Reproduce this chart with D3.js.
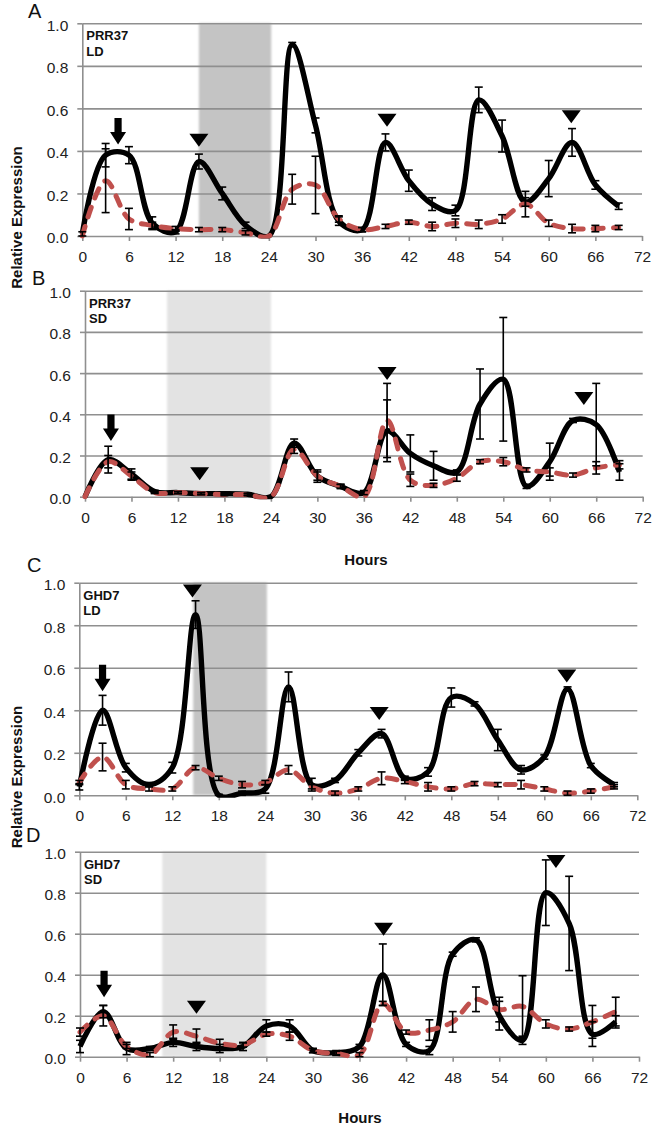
<!DOCTYPE html>
<html><head><meta charset="utf-8">
<script src="https://cdn.jsdelivr.net/npm/d3@7/dist/d3.min.js"></script>
<style>body{margin:0;background:#fff}svg{display:block}</style>
</head><body>
<svg id="c" width="653" height="1125"></svg>
<script>
// ---------- data ----------
const hours = [0,3,6,9,12,15,18,21,24,27,30,33,36,39,42,45,48,51,54,57,60,63,66,69];
const xTicks = [0,6,12,18,24,30,36,42,48,54,60,66,72];
const yTicks = [0,0.2,0.4,0.6,0.8,1.0];

// Panel A: PRR37 LD
const prr37LD_solid  = [0.01,0.38,0.38,0.06,0.02,0.35,0.20,0.05,0.0,0.90,0.52,0.07,0.03,0.44,0.26,0.15,0.12,0.64,0.47,0.16,0.27,0.44,0.24,0.14];
const prr37LD_solidErr = [0.01,0.055,0.04,0.03,0.01,0.035,0.03,0.015,0.0,0.01,0.035,0.02,0.01,0.04,0.05,0.03,0.025,0.06,0.075,0.02,0.085,0.065,0.02,0.015];
const prr37LD_dashed = [0.0,0.26,0.08,0.05,0.035,0.03,0.03,0.015,0.0,0.22,0.24,0.08,0.03,0.045,0.065,0.045,0.06,0.055,0.08,0.15,0.06,0.035,0.035,0.04];
const prr37LD_dashedErr = [0.0,0.15,0.05,0.015,0.01,0.01,0.01,0.01,0.0,0.07,0.135,0.015,0.01,0.01,0.01,0.02,0.02,0.02,0.02,0.06,0.015,0.02,0.015,0.01];
const prr37LD_dark = [15,24.3];
const prr37LD_arrow = [4.6,0.43];
const prr37LD_triangles = [[15,0.42],[39.2,0.514],[62.9,0.53]];

// Panel B: PRR37 SD
const prr37SD_solid  = [0.0,0.18,0.11,0.025,0.02,0.015,0.015,0.012,0.0,0.26,0.10,0.05,0.02,0.32,0.21,0.15,0.12,0.45,0.57,0.05,0.17,0.37,0.35,0.12];
const prr37SD_solidErr = [0.0,0.065,0.025,0.005,0.005,0.005,0.005,0.005,0.0,0.02,0.03,0.01,0.01,0.15,0.09,0.07,0.01,0.17,0.30,0.01,0.09,0.01,0.20,0.04];
const prr37SD_dashed = [0.0,0.17,0.10,0.02,0.02,0.015,0.01,0.01,0.0,0.23,0.10,0.05,0.0,0.37,0.08,0.055,0.09,0.17,0.17,0.13,0.12,0.105,0.14,0.155];
const prr37SD_dashedErr = [0.0,0.03,0.02,0.005,0.005,0.005,0.005,0.005,0.0,0.02,0.02,0.01,0.0,0.18,0.03,0.01,0.015,0.01,0.02,0.01,0.02,0.01,0.03,0.02];
const prr37SD_dark = [10.6,24];
const prr37SD_arrow = [3.35,0.27];
const prr37SD_triangles = [[14.8,0.08],[39.0,0.566],[64.4,0.445]];

// Panel C: GHD7 LD
const ghd7LD_solid  = [0.04,0.40,0.13,0.05,0.13,0.85,0.0,0.01,0.03,0.51,0.05,0.07,0.20,0.29,0.08,0.11,0.46,0.43,0.26,0.12,0.18,0.50,0.14,0.05];
const ghd7LD_solidErr = [0.015,0.07,0.02,0.01,0.025,0.065,0.005,0.01,0.02,0.07,0.03,0.01,0.015,0.02,0.01,0.02,0.045,0.01,0.05,0.02,0.01,0.01,0.01,0.01];
const ghd7LD_dashed = [0.06,0.18,0.05,0.03,0.03,0.13,0.08,0.05,0.06,0.12,0.04,0.01,0.03,0.08,0.065,0.04,0.03,0.055,0.05,0.05,0.03,0.01,0.02,0.04];
const ghd7LD_dashedErr = [0.01,0.065,0.02,0.01,0.01,0.01,0.01,0.015,0.01,0.02,0.01,0.01,0.01,0.03,0.01,0.02,0.01,0.01,0.01,0.02,0.01,0.01,0.01,0.01];
const ghd7LD_dark = [14.7,24.2];
const ghd7LD_arrow = [3.0,0.49];
const ghd7LD_triangles = [[14.6,0.93],[38.7,0.354],[62.9,0.53]];

// Panel D: GHD7 SD
const ghd7SD_solid  = [0.05,0.22,0.04,0.04,0.07,0.05,0.04,0.05,0.15,0.15,0.03,0.02,0.05,0.40,0.06,0.03,0.50,0.57,0.20,0.08,0.80,0.65,0.11,0.17];
const ghd7SD_solidErr = [0.03,0.03,0.03,0.01,0.02,0.02,0.02,0.02,0.03,0.03,0.01,0.01,0.01,0.15,0.01,0.02,0.01,0.01,0.07,0.02,0.16,0.23,0.06,0.03];
const ghd7SD_dashed = [0.12,0.20,0.05,0.01,0.12,0.10,0.065,0.057,0.11,0.10,0.03,0.016,0.01,0.26,0.12,0.13,0.17,0.28,0.23,0.245,0.16,0.135,0.17,0.22];
const ghd7SD_dashedErr = [0.02,0.05,0.01,0.01,0.035,0.035,0.02,0.01,0.01,0.02,0.01,0.01,0.01,0.01,0.01,0.05,0.05,0.06,0.06,0.15,0.02,0.01,0.08,0.07];
const ghd7SD_dark = [10.6,24];
const ghd7SD_arrow = [3.1,0.29];
const ghd7SD_triangles = [[15.0,0.21],[39.1,0.59],[61.3,0.92]];

// ---------- layout ----------
const panels = [
  {letter:'A', gene:'PRR37', cond:'LD', solid:prr37LD_solid, solidErr:prr37LD_solidErr, dashed:prr37LD_dashed, dashedErr:prr37LD_dashedErr, dark:prr37LD_dark, arrow:prr37LD_arrow, tri:prr37LD_triangles,
   box:{l:82.3,r:642,t:23.3,b:236}, letterPos:[28,18], band:'#c4c4c4', hoursPos:null},
  {letter:'B', gene:'PRR37', cond:'SD', solid:prr37SD_solid, solidErr:prr37SD_solidErr, dashed:prr37SD_dashed, dashedErr:prr37SD_dashedErr, dark:prr37SD_dark, arrow:prr37SD_arrow, tri:prr37SD_triangles,
   box:{l:85,r:642.7,t:290.7,b:496.7}, letterPos:[32,285], band:'#e3e3e3', hoursPos:[366,565]},
  {letter:'C', gene:'GHD7', cond:'LD', solid:ghd7LD_solid, solidErr:ghd7LD_solidErr, dashed:ghd7LD_dashed, dashedErr:ghd7LD_dashedErr, dark:ghd7LD_dark, arrow:ghd7LD_arrow, tri:ghd7LD_triangles,
   box:{l:79.3,r:637.3,t:582.7,b:795.3}, letterPos:[27,572], band:'#c4c4c4', hoursPos:null},
  {letter:'D', gene:'GHD7', cond:'SD', solid:ghd7SD_solid, solidErr:ghd7SD_solidErr, dashed:ghd7SD_dashed, dashedErr:ghd7SD_dashedErr, dark:ghd7SD_dark, arrow:ghd7SD_arrow, tri:ghd7SD_triangles,
   box:{l:80,r:639,t:851.7,b:1056.7}, letterPos:[26,842], band:'#e3e3e3', hoursPos:[360,1123]}
];

const FONT = '"Liberation Sans", Arial, Helvetica, sans-serif';
const svg = d3.select('#c');
const defs = svg.append('defs');
defs.append('filter').attr('id','soft').attr('x','-5%').attr('width','110%')
  .append('feGaussianBlur').attr('stdDeviation','0.8');

panels.forEach((p, pi) => {
  const x = d3.scaleLinear().domain([0,72]).range([p.box.l, p.box.r]);
  const y = d3.scaleLinear().domain([0,1]).range([p.box.b, p.box.t]);
  const g = svg.append('g');

  // dark period band
  g.append('rect')
    .attr('x', x(p.dark[0])).attr('width', x(p.dark[1]) - x(p.dark[0]))
    .attr('y', y(1)).attr('height', y(0) - y(1))
    .attr('fill', p.band).attr('filter','url(#soft)');

  // gridlines
  g.append('g').attr('transform', `translate(${x(0)},0)`)
    .call(d3.axisRight(y).tickValues(yTicks.slice(1)).tickSize(x(72) - x(0)).tickFormat(''))
    .call(s => { s.select('.domain').remove(); s.selectAll('line').attr('stroke','#8f8f8f').attr('stroke-width',1.6); });

  // y axis
  const ya = g.append('g').attr('transform', `translate(${x(0)},0)`)
    .call(d3.axisLeft(y).tickValues(yTicks).tickSize(5).tickSizeOuter(0).tickPadding(9).tickFormat(d3.format('.1f')));
  ya.select('.domain').attr('stroke','#8f8f8f').attr('stroke-width',1.6);
  ya.selectAll('line').attr('stroke','#8f8f8f').attr('stroke-width',1.6);
  ya.selectAll('text').attr('font-family',FONT).attr('font-size',15.5).attr('fill','#222').attr('dy','0.45em');

  // x axis
  const xa = g.append('g').attr('transform', `translate(0,${y(0)})`)
    .call(d3.axisBottom(x).tickValues(xTicks).tickSize(5).tickSizeOuter(0).tickPadding(10));
  xa.select('.domain').attr('stroke','#8f8f8f').attr('stroke-width',1.6);
  xa.selectAll('line').attr('stroke','#8f8f8f').attr('stroke-width',1.6);
  xa.selectAll('text').attr('font-family',FONT).attr('font-size',15.5).attr('fill','#222');

  // clip for series
  const cid = 'clip' + pi;
  defs.append('clipPath').attr('id', cid).append('rect')
    .attr('x', x(0) - 4).attr('width', x(72) - x(0) + 8)
    .attr('y', y(1) - 6).attr('height', y(0) - y(1) + 8.5);

  const line = d3.line().x((d,i) => x(hours[i])).y(d => y(d)).curve(d3.curveCatmullRom.alpha(0.5));
  const sg = g.append('g').attr('clip-path', `url(#${cid})`);

  sg.append('path').attr('d', line(p.solid)).attr('fill','none')
    .attr('stroke','#000').attr('stroke-width',5.4).attr('stroke-linejoin','round');
  sg.append('path').attr('d', line(p.dashed)).attr('fill','none')
    .attr('stroke','#c0504d').attr('stroke-width',5).attr('stroke-linecap','round')
    .attr('stroke-dasharray','10,10');

  // error bars
  const eb = g.append('g').attr('stroke','#000').attr('stroke-width',1.6);
  [[p.solid,p.solidErr],[p.dashed,p.dashedErr]].forEach(([vals, errs]) => {
    vals.forEach((v,i) => {
      const e = errs[i];
      if (!(e > 0)) return;
      const cx = x(hours[i]);
      const lo = Math.max(0, v - e), hi = v + e;
      eb.append('line').attr('x1',cx).attr('x2',cx).attr('y1',y(lo)).attr('y2',y(hi));
      eb.append('line').attr('x1',cx-4).attr('x2',cx+4).attr('y1',y(lo)).attr('y2',y(lo));
      eb.append('line').attr('x1',cx-4).attr('x2',cx+4).attr('y1',y(hi)).attr('y2',y(hi));
    });
  });

  // arrow marker
  {
    const ax = x(p.arrow[0]), ay = y(p.arrow[1]);
    const hw = 8, hh = 12.5, sw = 3.6, sh = 14;
    g.append('path').attr('fill','#000')
      .attr('d', `M${ax},${ay} L${ax-hw},${ay-hh} L${ax-sw},${ay-hh} L${ax-sw},${ay-hh-sh} L${ax+sw},${ay-hh-sh} L${ax+sw},${ay-hh} L${ax+hw},${ay-hh} Z`);
  }
  // triangles
  p.tri.forEach(([tx, tv]) => {
    const cx = x(tx), cy = y(tv);
    g.append('path').attr('fill','#000')
      .attr('d', `M${cx},${cy} L${cx-9.5},${cy-13} L${cx+9.5},${cy-13} Z`);
  });

  // gene / condition labels
  g.append('text').attr('x', x(0) + 4).attr('y', y(1) + 17)
    .attr('font-family',FONT).attr('font-weight','bold').attr('font-size',13).attr('fill','#111').text(p.gene);
  g.append('text').attr('x', x(0) + 4).attr('y', y(1) + 32.5)
    .attr('font-family',FONT).attr('font-weight','bold').attr('font-size',13).attr('fill','#111').text(p.cond);

  // panel letter
  svg.append('text').attr('x', p.letterPos[0]).attr('y', p.letterPos[1])
    .attr('font-family',FONT).attr('font-size',20).attr('fill','#111').text(p.letter);

  if (p.hoursPos) {
    svg.append('text').attr('x', p.hoursPos[0]).attr('y', p.hoursPos[1]).attr('text-anchor','middle')
      .attr('font-family',FONT).attr('font-weight','bold').attr('font-size',15).attr('fill','#111').text('Hours');
  }
});

// y-axis titles
[[22,217.5],[22,777]].forEach(([tx,ty]) => {
  svg.append('text').attr('transform', `translate(${tx},${ty}) rotate(-90)`).attr('text-anchor','middle')
    .attr('font-family',FONT).attr('font-weight','bold').attr('font-size',15).attr('fill','#111').text('Relative Expression');
});
</script>
</body></html>
